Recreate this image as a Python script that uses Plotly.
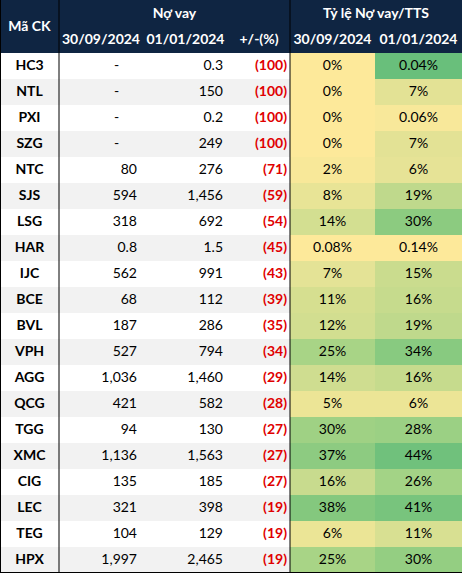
import plotly.graph_objects as go

tickers = ["HC3", "NTL", "PXI", "SZG", "NTC", "SJS", "LSG", "HAR", "IJC", "BCE",
           "BVL", "VPH", "AGG", "QCG", "TGG", "XMC", "CIG", "LEC", "TEG", "HPX"]
debt_q3 = [None, None, None, None, 80, 594, 318, 0.8, 562, 68,
           187, 527, 1036, 421, 94, 1136, 135, 321, 104, 1997]
debt_q1 = [0.3, 150, 0.2, 249, 276, 1456, 692, 1.5, 991, 112,
           286, 794, 1460, 582, 130, 1563, 185, 398, 129, 2465]
change_pct = [-100, -100, -100, -100, -71, -59, -54, -45, -43, -39,
              -35, -34, -29, -28, -27, -27, -27, -19, -19, -19]
ratio_q3 = [0, 0, 0, 0, 2, 8, 14, 0.08, 7, 11, 12, 25, 14, 5, 30, 37, 16, 38, 6, 25]
ratio_q1 = [0.04, 7, 0.06, 7, 6, 19, 30, 0.14, 15, 16, 19, 34, 16, 6, 28, 44, 26, 41, 11, 30]

header_top = ["Nợ vay", "Tỷ lệ Nợ vay/TTS"]
header_cols = ["Mã CK", "30/09/2024", "01/01/2024", "+/-(%)", "30/09/2024", "01/01/2024"]

# cell background styles for the two ratio columns
ratio_q3_colors = ["#fde99a", "#fde99a", "#fde99a", "#fde99a", "#f8e899", "#e8e496", "#d3df91",
                   "#fde99a", "#e4e396", "#d6df90", "#d2de90", "#a8d486", "#cfdd90", "#ece596",
                   "#9fd184", "#8dcb81", "#c8db8e", "#84c87e", "#ebe596", "#a8d486"]
ratio_q1_colors = ["#69bf7b", "#e3e295", "#f8e89a", "#e3e295", "#e6e396", "#bfd98c", "#8ccb80",
                   "#fde99a", "#cadc8e", "#c6db8d", "#bfd98c", "#88ca80", "#c6db8d", "#ece596",
                   "#9bd084", "#70c17c", "#a3d386", "#78c47d", "#d8e092", "#94ce82"]

NAVY = "#0f2542"
RED = "#e00000"
FONT = "Lato"
FS = 14


def fmt_debt(v):
    if v is None:
        return "-" + "\u00a0" * 5
    if v < 10:
        return f"{v:.1f}"
    return f"{v:,.0f}"


def fmt_ratio(v):
    if v == 0:
        return "0%"
    if v < 1:
        return f"{v:.2f}%"
    return f"{v:.0f}%"


col_text = [
    [f"<b>{t}</b>" for t in tickers],
    [fmt_debt(v) for v in debt_q3],
    [fmt_debt(v) for v in debt_q1],
    [f"<b>({abs(v):.0f})</b>" for v in change_pct],
    [fmt_ratio(v) for v in ratio_q3],
    [fmt_ratio(v) for v in ratio_q1],
]
col_align = ["center", "right", "right", "right", "center", "center"]
col_color = ["black", "black", "black", RED, "black", "black"]
right_pad = [0, 6, 5, 3, 0, 0]

n = len(tickers)
stripe = ["#ffffff" if i % 2 == 0 else "#f2f2f2" for i in range(n)]
fills = [stripe, stripe, stripe, stripe, ratio_q3_colors, ratio_q1_colors]

widths = [59, 84, 85, 62, 85, 87]
W = sum(widths)
H = 574
HEADER_H = 53
ROW_H = 26

edges = [0]
for w in widths:
    edges.append(edges[-1] + w)
row_y = [HEADER_H + ROW_H * i + ROW_H / 2 for i in range(n)]

fig = go.Figure()

# header background
fig.add_trace(go.Bar(orientation="h", y=[HEADER_H / 2], x=[W], base=[0], width=HEADER_H,
                     marker=dict(color=NAVY, line=dict(width=0)), hoverinfo="skip"))

# cell backgrounds
for c in range(len(widths)):
    fig.add_trace(go.Bar(orientation="h", y=row_y, x=[widths[c]] * n, base=[edges[c]] * n,
                         width=ROW_H, marker=dict(color=fills[c], line=dict(width=0)),
                         hoverinfo="skip"))

# cell texts
for c in range(len(widths)):
    if col_align[c] == "center":
        xa = (edges[c] + edges[c + 1]) / 2
        pos = "middle center"
    else:
        xa = edges[c + 1] - right_pad[c]
        pos = "middle left"
    fig.add_trace(go.Scatter(x=[xa] * n, y=row_y, mode="text", text=col_text[c],
                             textposition=pos,
                             textfont=dict(family=FONT, size=FS, color=col_color[c]),
                             hoverinfo="skip"))

# header texts
hx = [(edges[0] + edges[1]) / 2, (edges[1] + edges[4]) / 2, (edges[4] + edges[6]) / 2]
hy = [27, 14, 14]
ht = [header_cols[0], header_top[0], header_top[1]]
hx += [(edges[c] + edges[c + 1]) / 2 for c in range(1, 6)]
hy += [40] * 5
ht += header_cols[1:]
fig.add_trace(go.Scatter(x=hx, y=hy, mode="text", text=[f"<b>{t}</b>" for t in ht],
                         textposition="middle center",
                         textfont=dict(family=FONT, size=FS, color="white"),
                         hoverinfo="skip"))

# borders
line = dict(color="black", width=1)
bottom = HEADER_H + ROW_H * n
for xe in [edges[1], edges[4]]:
    fig.add_shape(type="line", xref="x", yref="y", x0=xe, x1=xe, y0=0, y1=bottom, line=line)
fig.add_shape(type="line", xref="x", yref="y", x0=0.5, x1=0.5, y0=0, y1=bottom - 0.5, line=line)
fig.add_shape(type="line", xref="x", yref="y", x0=0, x1=W, y0=bottom - 0.5, y1=bottom - 0.5,
              line=line)

fig.update_layout(width=W, height=H, margin=dict(l=0, r=0, t=0, b=0),
                  paper_bgcolor="white", plot_bgcolor="white", showlegend=False,
                  barmode="overlay", bargap=0,
                  xaxis=dict(range=[0, W], visible=False, fixedrange=True),
                  yaxis=dict(range=[H, 0], visible=False, fixedrange=True))
fig.write_html("out.html", config={"displayModeBar": False},
               post_script="document.body.style.margin='0';document.body.style.overflow='hidden';")
